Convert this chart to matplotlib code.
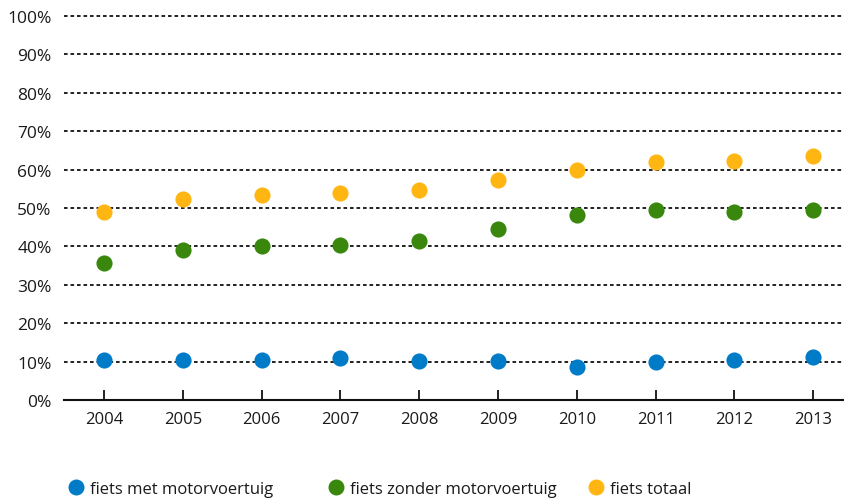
import matplotlib
matplotlib.use("Agg")
import matplotlib.pyplot as plt
from matplotlib.lines import Line2D

years = ["2004", "2005", "2006", "2007", "2008", "2009", "2010", "2011", "2012", "2013"]
met_motor = [10.4, 10.3, 10.4, 10.9, 10.2, 10.2, 8.6, 9.9, 10.4, 11.3]
zonder_motor = [35.7, 39.1, 40.1, 40.3, 41.5, 44.5, 48.3, 49.4, 49.0, 49.5]
totaal = [49.0, 52.3, 53.5, 54.0, 54.6, 57.4, 60.0, 62.1, 62.2, 63.6]

series_names = ["fiets met motorvoertuig", "fiets zonder motorvoertuig", "fiets totaal"]
colors = ["#007BC7", "#39870C", "#FFB612"]

plt.rcParams['font.family'] = ['Open Sans', 'DejaVu Sans']
text_color = "#1a1a1a"

fig = plt.figure(figsize=(8.44, 5.02), dpi=100)
W, H = 844, 502
left_px, right_px = 64, 844
bottom_px = 401
ymax = 102
top_px = bottom_px - ymax * 3.84
ax = fig.add_axes([left_px / W, 1 - bottom_px / H, (right_px - left_px) / W, (bottom_px - top_px) / H])

x = list(range(len(years)))
for vals, c, name in zip([met_motor, zonder_motor, totaal], colors, series_names):
    ax.scatter(x, vals, s=135, color=c, zorder=3, linewidths=0, label=name)

ax.set_ylim(0, ymax)
ax.set_xlim(-0.508, 9.39)
yt = list(range(0, 101, 10))
ax.set_yticks(yt)
ax.set_yticklabels([f"{v}%" for v in yt])
ax.set_xticks(x)
ax.set_xticklabels(years)

for v in yt[1:]:
    ax.axhline(v, color="#111111", linewidth=1.3, linestyle=(0, (2.0, 1.6)), zorder=1)

for s in ["left", "top", "right"]:
    ax.spines[s].set_visible(False)
ax.spines["bottom"].set_color("#111111")
ax.spines["bottom"].set_linewidth(1.5)

ax.tick_params(axis="y", length=0, pad=9, labelsize=12.5, labelcolor=text_color)
ax.tick_params(axis="x", direction="in", length=7, width=1.3, color="#111111", pad=8,
               labelsize=12, labelcolor=text_color)

legend_x = [58 / W, 318 / W, 578 / W]
for name, c, lx in zip(series_names, colors, legend_x):
    handle = Line2D([], [], marker="o", linestyle="", markersize=11.5, markerfacecolor=c,
                    markeredgewidth=0)
    leg = fig.legend([handle], [name], loc="center left", bbox_to_anchor=(lx, 1 - 490 / H),
                     frameon=False, fontsize=12, handletextpad=0.2, borderpad=0,
                     handlelength=1.2, labelcolor=text_color)

fig.savefig("out.png", dpi=100)
